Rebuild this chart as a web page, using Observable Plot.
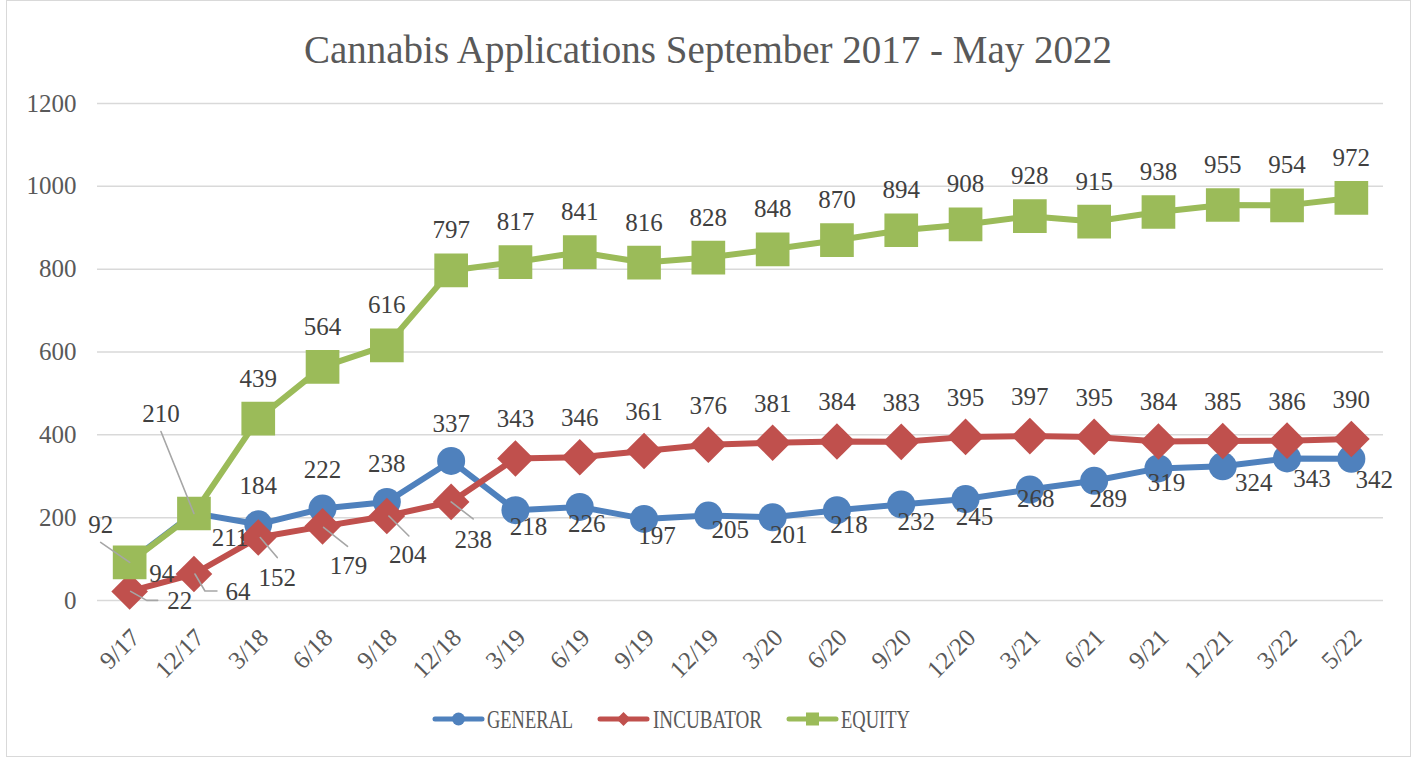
<!DOCTYPE html>
<html>
<head>
<meta charset="utf-8">
<script src="https://cdn.jsdelivr.net/npm/d3@7"></script>
<script src="https://cdn.jsdelivr.net/npm/@observablehq/plot@0.6"></script>
<style>
  html, body { margin: 0; padding: 0; background: #ffffff; }
  #wrap { position: relative; width: 1416px; height: 758px; overflow: hidden; font-family: "Liberation Serif", serif; background: #fff; }
  #frame { position: absolute; left: 6px; top: 0px; width: 1405px; height: 757px; border: 1px solid #d9d9d9; box-sizing: border-box; pointer-events: none; }
  #title { position: absolute; left: 0; top: 30px; width: 1416px; text-align: center; font-size: 39px; line-height: 39px; color: #595959; }
  #chart { position: absolute; left: 0; top: 0; }
  #legend { position: absolute; left: 0; top: 700px; }
</style>
</head>
<body>
<div id="wrap">
  <div id="chart"></div>
  <div id="title">Cannabis Applications September 2017 - May 2022</div>
  <svg id="legend" width="1416" height="40"></svg>
  <div id="frame"></div>
</div>
<script>
// ---------- DATA ----------
const dates = ["9/17","12/17","3/18","6/18","9/18","12/18","3/19","6/19","9/19","12/19",
               "3/20","6/20","9/20","12/20","3/21","6/21","9/21","12/21","3/22","5/22"];
const general   = [94, 211, 184, 222, 238, 337, 218, 226, 197, 205, 201, 218, 232, 245, 268, 289, 319, 324, 343, 342];
const incubator = [22, 64, 152, 179, 204, 238, 343, 346, 361, 376, 381, 384, 383, 395, 397, 395, 384, 385, 386, 390];
const equity    = [92, 210, 439, 564, 616, 797, 817, 841, 816, 828, 848, 870, 894, 908, 928, 915, 938, 955, 954, 972];
const seriesNames = ["GENERAL", "INCUBATOR", "EQUITY"];
const yTicks = [0, 200, 400, 600, 800, 1000, 1200];

// ---------- LABEL PLACEMENT (pixel offsets from each point) ----------
const generalLabelOffsets = [[32,12],[36,25],[0,-38],[0,-39],[0,-38],[0,-37],[13,17],[7,17],[13,17],[22,14],
                             [16,18],[12,15],[15,18],[9,18],[6,9],[14,18],[8,15],[31,17],[25,21],[23,21]];
const incubatorLabelOffsets = [[50,10],[44,18],[19,40],[26,40],[21,39],[22,38]];
const equityLabelOffsets = [[-29,-37],[-33,-100]];
const incubatorLeaders = {0: [[1,0],[17,9],[28,9]], 1: [[1,0],[11,17],[23,17]], 2: [[2,0],[19,20]],
                          3: [[1,1],[25,20]], 4: [[2,0],[22,20]], 5: [[0,0],[22,17]]};
const equityLeaders = {0: [[0,0],[-29,-20]], 1: [[0,0],[-33,-82]]};

// ---------- LAYOUT ----------
const W = 1416, H = 758, ML = 97, MR = 33, MT = 103, MB = 158;
const yMax = 1200;
const pxX = (W - ML - MR) / dates.length;
const pxY = (H - MT - MB) / yMax;
const colors = {GENERAL: "#4F81BD", INCUBATOR: "#C0504D", EQUITY: "#9BBB59"};
const idx = d3.range(dates.length);

const seriesVals = {GENERAL: general, INCUBATOR: incubator, EQUITY: equity};

function labelRows(name) {
  const vals = seriesVals[name];
  return idx.map(i => {
    let off;
    if (name === "GENERAL") off = generalLabelOffsets[i];
    else if (name === "INCUBATOR") off = incubatorLabelOffsets[i] || [0, -39];
    else off = equityLabelOffsets[i] || [0, -40];
    return {x: i + off[0] / pxX, y: vals[i] - off[1] / pxY, text: String(vals[i])};
  });
}
function leaderRows(name, leaders) {
  const vals = seriesVals[name];
  const rows = [];
  for (const k of Object.keys(leaders)) {
    const i = +k;
    leaders[k].forEach(([ox, oy], j) => rows.push({id: name + i, x: i + ox / pxX, y: vals[i] - oy / pxY}));
  }
  return rows;
}

const marks = [
  Plot.ruleY(yTicks, {stroke: "#d9d9d9", strokeWidth: 1.5}),
  Plot.axisY({ticks: yTicks, tickSize: 0, tickPadding: 21, fontSize: 25, fill: "#595959", label: null, tickFormat: d => String(d)}),
  Plot.text(idx, {x: i => i, y: 0, text: i => dates[i], rotate: -45, textAnchor: "end", lineAnchor: "middle",
                  dx: 6, dy: 33, fontSize: 25, fill: "#595959"})
];
for (const name of seriesNames) {
  const vals = seriesVals[name];
  marks.push(Plot.line(idx, {x: i => i, y: i => vals[i], stroke: colors[name], strokeWidth: 6, strokeLinejoin: "round", strokeLinecap: "round"}));
  const sym = name === "GENERAL" ? "circle" : name === "INCUBATOR" ? "diamond2" : "square";
  const r = name === "GENERAL" ? 14 : name === "INCUBATOR" ? 16.5 : 19;
  marks.push(Plot.dot(idx, {x: i => i, y: i => vals[i], symbol: sym, r, fill: colors[name], stroke: "none"}));
}
marks.push(Plot.line(leaderRows("INCUBATOR", incubatorLeaders), {x: "x", y: "y", z: "id", stroke: "#a6a6a6", strokeWidth: 1.6}));
marks.push(Plot.line(leaderRows("EQUITY", equityLeaders), {x: "x", y: "y", z: "id", stroke: "#a6a6a6", strokeWidth: 1.6}));
for (const name of seriesNames) {
  marks.push(Plot.text(labelRows(name), {x: "x", y: "y", text: "text", fontSize: 25, fill: "#404040", lineAnchor: "middle"}));
}

const chart = Plot.plot({
  width: W, height: H,
  marginLeft: ML, marginRight: MR, marginTop: MT, marginBottom: MB,
  style: {fontFamily: "Liberation Serif, serif", fontSize: "25px", background: "transparent", overflow: "visible"},
  x: {type: "linear", domain: [-0.5, dates.length - 0.5], axis: null},
  y: {type: "linear", domain: [0, yMax], axis: null},
  marks
});
document.getElementById("chart").appendChild(chart);

// ---------- LEGEND ----------
const leg = d3.select("#legend");
const legendItems = [
  {name: "GENERAL", x0: 435, textX: 487, textLen: 86},
  {name: "INCUBATOR", x0: 600, textX: 653, textLen: 109},
  {name: "EQUITY", x0: 789, textX: 841, textLen: 69}
];
const ly = 19;
for (const it of legendItems) {
  const c = colors[it.name];
  leg.append("line").attr("x1", it.x0).attr("x2", it.x0 + 47).attr("y1", ly).attr("y2", ly)
    .attr("stroke", c).attr("stroke-width", 5).attr("stroke-linecap", "round");
  const cx = it.x0 + 23.5;
  if (it.name === "GENERAL") leg.append("circle").attr("cx", cx).attr("cy", ly).attr("r", 6.5).attr("fill", c);
  else if (it.name === "INCUBATOR") leg.append("path").attr("d", `M${cx},${ly-7}L${cx+7},${ly}L${cx},${ly+7}L${cx-7},${ly}Z`).attr("fill", c);
  else leg.append("rect").attr("x", cx - 6.5).attr("y", ly - 6.5).attr("width", 13).attr("height", 13).attr("fill", c);
  leg.append("text").attr("x", it.textX).attr("y", 28).attr("font-size", 25).attr("fill", "#595959")
    .attr("font-family", "Liberation Serif, serif")
    .attr("textLength", it.textLen).attr("lengthAdjust", "spacingAndGlyphs").text(it.name);
}
</script>
</body>
</html>
